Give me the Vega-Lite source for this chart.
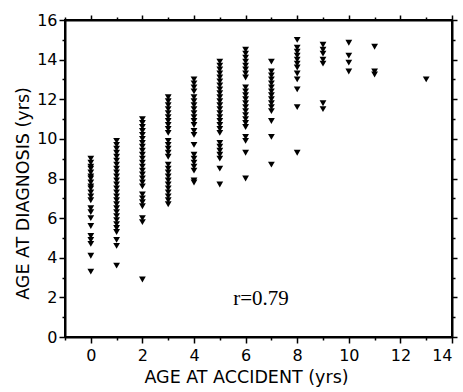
{
  "$schema": "https://vega.github.io/schema/vega-lite/v6.json",
  "autosize": "none",
  "width": 387,
  "height": 317,
  "padding": {"left": 65, "top": 20, "right": 11, "bottom": 55},
  "background": "white",
  "config": {
    "view": {"stroke": "black", "strokeWidth": 2},
    "axis": {"grid": false, "domainColor": "black", "domainWidth": 2, "tickColor": "black", "tickWidth": 1.5,
      "labelColor": "black", "titleColor": "black", "labelFont": "DejaVu Sans", "titleFont": "DejaVu Sans",
      "labelFontSize": 16, "titleFontSize": 17.5, "titleFontWeight": "normal"}
  },
  "datasets": {
    "pts": [
      {"acc": 0, "diag": 9.0}, {"acc": 0, "diag": 8.8}, {"acc": 0, "diag": 8.6}, {"acc": 0, "diag": 8.5}, {"acc": 0, "diag": 8.3}, {"acc": 0, "diag": 8.1}, {"acc": 0, "diag": 8.0}, {"acc": 0, "diag": 7.8}, {"acc": 0, "diag": 7.6}, {"acc": 0, "diag": 7.5}, {"acc": 0, "diag": 7.3}, {"acc": 0, "diag": 7.1}, {"acc": 0, "diag": 6.9}, {"acc": 0, "diag": 6.5}, {"acc": 0, "diag": 6.3}, {"acc": 0, "diag": 6.0}, {"acc": 0, "diag": 5.6}, {"acc": 0, "diag": 5.1}, {"acc": 0, "diag": 4.9}, {"acc": 0, "diag": 4.7}, {"acc": 0, "diag": 4.1}, {"acc": 0, "diag": 3.3},
      {"acc": 1, "diag": 9.9}, {"acc": 1, "diag": 9.7}, {"acc": 1, "diag": 9.5}, {"acc": 1, "diag": 9.3}, {"acc": 1, "diag": 9.1}, {"acc": 1, "diag": 8.9}, {"acc": 1, "diag": 8.7}, {"acc": 1, "diag": 8.5}, {"acc": 1, "diag": 8.3}, {"acc": 1, "diag": 8.1}, {"acc": 1, "diag": 7.9}, {"acc": 1, "diag": 7.7}, {"acc": 1, "diag": 7.5}, {"acc": 1, "diag": 7.3}, {"acc": 1, "diag": 7.1}, {"acc": 1, "diag": 6.9}, {"acc": 1, "diag": 6.7}, {"acc": 1, "diag": 6.5}, {"acc": 1, "diag": 6.3}, {"acc": 1, "diag": 6.1}, {"acc": 1, "diag": 5.9}, {"acc": 1, "diag": 5.7}, {"acc": 1, "diag": 5.5}, {"acc": 1, "diag": 5.3}, {"acc": 1, "diag": 4.9}, {"acc": 1, "diag": 4.6}, {"acc": 1, "diag": 3.6},
      {"acc": 2, "diag": 11.0}, {"acc": 2, "diag": 10.8}, {"acc": 2, "diag": 10.6}, {"acc": 2, "diag": 10.4}, {"acc": 2, "diag": 10.2}, {"acc": 2, "diag": 10.0}, {"acc": 2, "diag": 9.8}, {"acc": 2, "diag": 9.6}, {"acc": 2, "diag": 9.4}, {"acc": 2, "diag": 9.2}, {"acc": 2, "diag": 9.0}, {"acc": 2, "diag": 8.8}, {"acc": 2, "diag": 8.6}, {"acc": 2, "diag": 8.4}, {"acc": 2, "diag": 8.2}, {"acc": 2, "diag": 8.0}, {"acc": 2, "diag": 7.8}, {"acc": 2, "diag": 7.6}, {"acc": 2, "diag": 7.2}, {"acc": 2, "diag": 7.0}, {"acc": 2, "diag": 6.8}, {"acc": 2, "diag": 6.6}, {"acc": 2, "diag": 6.0}, {"acc": 2, "diag": 5.8}, {"acc": 2, "diag": 2.9},
      {"acc": 3, "diag": 12.1}, {"acc": 3, "diag": 11.9}, {"acc": 3, "diag": 11.7}, {"acc": 3, "diag": 11.5}, {"acc": 3, "diag": 11.3}, {"acc": 3, "diag": 11.1}, {"acc": 3, "diag": 10.9}, {"acc": 3, "diag": 10.7}, {"acc": 3, "diag": 10.5}, {"acc": 3, "diag": 10.3}, {"acc": 3, "diag": 9.9}, {"acc": 3, "diag": 9.7}, {"acc": 3, "diag": 9.5}, {"acc": 3, "diag": 9.3}, {"acc": 3, "diag": 9.1}, {"acc": 3, "diag": 8.7}, {"acc": 3, "diag": 8.5}, {"acc": 3, "diag": 8.3}, {"acc": 3, "diag": 8.1}, {"acc": 3, "diag": 7.9}, {"acc": 3, "diag": 7.7}, {"acc": 3, "diag": 7.5}, {"acc": 3, "diag": 7.3}, {"acc": 3, "diag": 7.1}, {"acc": 3, "diag": 6.9}, {"acc": 3, "diag": 6.7},
      {"acc": 4, "diag": 13.0}, {"acc": 4, "diag": 12.8}, {"acc": 4, "diag": 12.6}, {"acc": 4, "diag": 12.4}, {"acc": 4, "diag": 12.1}, {"acc": 4, "diag": 11.9}, {"acc": 4, "diag": 11.7}, {"acc": 4, "diag": 11.5}, {"acc": 4, "diag": 11.3}, {"acc": 4, "diag": 11.1}, {"acc": 4, "diag": 10.9}, {"acc": 4, "diag": 10.7}, {"acc": 4, "diag": 10.4}, {"acc": 4, "diag": 10.2}, {"acc": 4, "diag": 9.7}, {"acc": 4, "diag": 9.2}, {"acc": 4, "diag": 9.0}, {"acc": 4, "diag": 8.8}, {"acc": 4, "diag": 8.6}, {"acc": 4, "diag": 8.4}, {"acc": 4, "diag": 7.9}, {"acc": 4, "diag": 7.8},
      {"acc": 5, "diag": 13.9}, {"acc": 5, "diag": 13.7}, {"acc": 5, "diag": 13.5}, {"acc": 5, "diag": 13.3}, {"acc": 5, "diag": 13.1}, {"acc": 5, "diag": 12.9}, {"acc": 5, "diag": 12.7}, {"acc": 5, "diag": 12.5}, {"acc": 5, "diag": 12.3}, {"acc": 5, "diag": 12.1}, {"acc": 5, "diag": 11.9}, {"acc": 5, "diag": 11.7}, {"acc": 5, "diag": 11.5}, {"acc": 5, "diag": 11.3}, {"acc": 5, "diag": 11.1}, {"acc": 5, "diag": 10.9}, {"acc": 5, "diag": 10.7}, {"acc": 5, "diag": 10.5}, {"acc": 5, "diag": 10.3}, {"acc": 5, "diag": 9.8}, {"acc": 5, "diag": 9.6}, {"acc": 5, "diag": 9.4}, {"acc": 5, "diag": 9.2}, {"acc": 5, "diag": 9.0}, {"acc": 5, "diag": 8.5}, {"acc": 5, "diag": 7.7},
      {"acc": 6, "diag": 14.5}, {"acc": 6, "diag": 14.3}, {"acc": 6, "diag": 14.1}, {"acc": 6, "diag": 13.9}, {"acc": 6, "diag": 13.7}, {"acc": 6, "diag": 13.5}, {"acc": 6, "diag": 13.3}, {"acc": 6, "diag": 13.1}, {"acc": 6, "diag": 12.6}, {"acc": 6, "diag": 12.4}, {"acc": 6, "diag": 12.2}, {"acc": 6, "diag": 12.0}, {"acc": 6, "diag": 11.8}, {"acc": 6, "diag": 11.6}, {"acc": 6, "diag": 11.4}, {"acc": 6, "diag": 11.2}, {"acc": 6, "diag": 11.0}, {"acc": 6, "diag": 10.8}, {"acc": 6, "diag": 10.6}, {"acc": 6, "diag": 10.1}, {"acc": 6, "diag": 9.9}, {"acc": 6, "diag": 9.3}, {"acc": 6, "diag": 8.0},
      {"acc": 7, "diag": 13.9}, {"acc": 7, "diag": 13.4}, {"acc": 7, "diag": 13.2}, {"acc": 7, "diag": 13.0}, {"acc": 7, "diag": 12.8}, {"acc": 7, "diag": 12.6}, {"acc": 7, "diag": 12.4}, {"acc": 7, "diag": 12.2}, {"acc": 7, "diag": 12.0}, {"acc": 7, "diag": 11.8}, {"acc": 7, "diag": 11.6}, {"acc": 7, "diag": 11.4}, {"acc": 7, "diag": 10.9}, {"acc": 7, "diag": 10.1}, {"acc": 7, "diag": 8.7},
      {"acc": 8, "diag": 15.0}, {"acc": 8, "diag": 14.6}, {"acc": 8, "diag": 14.4}, {"acc": 8, "diag": 14.2}, {"acc": 8, "diag": 14.0}, {"acc": 8, "diag": 13.8}, {"acc": 8, "diag": 13.6}, {"acc": 8, "diag": 13.3}, {"acc": 8, "diag": 13.0}, {"acc": 8, "diag": 12.5}, {"acc": 8, "diag": 11.6}, {"acc": 8, "diag": 9.3},
      {"acc": 9, "diag": 14.75}, {"acc": 9, "diag": 14.5}, {"acc": 9, "diag": 14.3}, {"acc": 9, "diag": 14.0}, {"acc": 9, "diag": 13.8}, {"acc": 9, "diag": 11.8}, {"acc": 9, "diag": 11.5},
      {"acc": 10, "diag": 14.85}, {"acc": 10, "diag": 14.2}, {"acc": 10, "diag": 13.85}, {"acc": 10, "diag": 13.4},
      {"acc": 11, "diag": 14.65}, {"acc": 11, "diag": 13.4}, {"acc": 11, "diag": 13.25},
      {"acc": 13, "diag": 13.0}
    ],
    "note": [{"acc": 6.6, "diag": 1.9, "label": "r=0.79"}]
  },
  "layer": [
    {
      "data": {"name": "pts"},
      "mark": {"type": "point", "shape": "triangle-down", "filled": true, "color": "black", "opacity": 1, "size": 46},
      "encoding": {
        "x": {"field": "acc", "type": "quantitative", "scale": {"domain": [-1, 14], "nice": false, "zero": false},
          "axis": {"title": "AGE AT ACCIDENT (yrs)", "values": [-1,0,1,2,3,4,5,6,7,8,9,10,11,12,13,14],
            "labelExpr": "datum.value >= 0 && datum.value % 2 === 0 ? datum.label : ''",
            "tickSize": {"condition": {"test": "datum.value % 2 === 0", "value": 6}, "value": 3},
            "labelPadding": 4, "titlePadding": 5, "titleX": 181}},
        "y": {"field": "diag", "type": "quantitative", "scale": {"domain": [0, 16], "nice": false},
          "axis": {"title": "AGE AT DIAGNOSIS (yrs)", "values": [0,1,2,3,4,5,6,7,8,9,10,11,12,13,14,15,16],
            "labelExpr": "datum.value % 2 === 0 ? datum.label : ''",
            "tickSize": {"condition": {"test": "datum.value % 2 === 0", "value": 6}, "value": 3},
            "labelPadding": 2, "titlePadding": 4, "titleY": 173}}
      }
    },
    {
      "data": {"name": "note"},
      "mark": {"type": "text", "font": "Liberation Serif", "fontSize": 21, "color": "black", "align": "center", "baseline": "middle"},
      "encoding": {
        "x": {"field": "acc", "type": "quantitative",
          "axis": {"title": null, "labels": false, "values": [-1,0,1,2,3,4,5,6,7,8,9,10,11,12,13,14],
            "tickSize": {"condition": {"test": "datum.value % 2 === 0", "value": 5}, "value": 3}}},
        "y": {"field": "diag", "type": "quantitative",
          "axis": {"title": null, "labels": false, "values": [0,1,2,3,4,5,6,7,8,9,10,11,12,13,14,15,16],
            "tickSize": {"condition": {"test": "datum.value % 2 === 0", "value": 5}, "value": 3}}},
        "text": {"field": "label"}
      }
    }
  ],
  "resolve": {"axis": {"x": "independent", "y": "independent"}}
}
